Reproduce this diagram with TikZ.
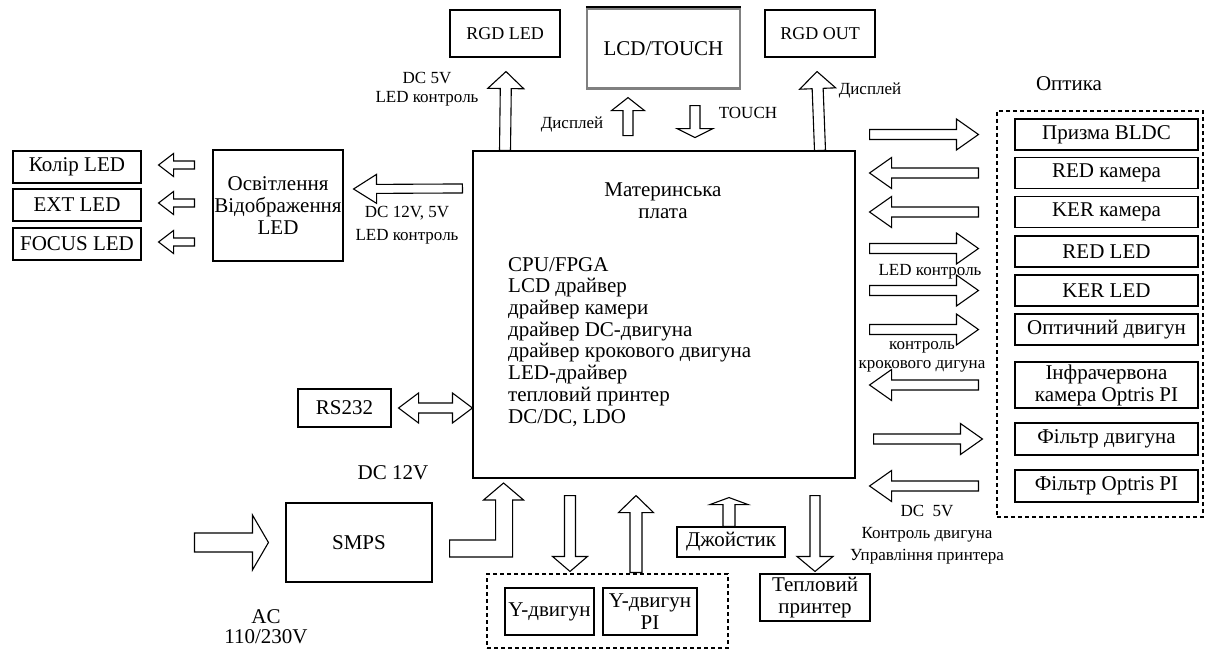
\documentclass[tikz,border=0pt]{standalone}
\usepackage{fontspec}
\setmainfont{Liberation Serif}
\usetikzlibrary{calc,positioning}

\newcommand{\bigfs}{\fontsize{21}{22}\selectfont}
\newcommand{\midfs}{\fontsize{18}{20}\selectfont}
\newcommand{\smallfs}{\fontsize{17}{19}\selectfont}

\begin{document}
\begin{tikzpicture}[x=1pt, y=-1pt,
  box/.style={draw, line width=1.1pt, inner sep=0pt, align=center, font=\bigfs},
  grp/.style={draw, line width=1.1pt, dash pattern=on 4pt off 3pt, inner sep=0pt},
  lbl/.style={align=center, font=\smallfs, inner sep=0pt},
  hollow/.style={draw, fill=white, line width=1.1pt, line join=miter},
  % block arrow: shaft half width, head half width, head length
  blk/.style n args={3}{to path={
    let \p1=(\tikztostart), \p2=(\tikztotarget), \p3=($(\p2)!#3!(\p1)$) in
    ($(\p1)!#1!90:(\p2)$) -- ($(\p3)!#1!90:(\p2)$) -- ($(\p3)!#2!90:(\p2)$)
    -- (\p2) -- ($(\p3)!#2!-90:(\p2)$) -- ($(\p3)!#1!-90:(\p2)$)
    -- ($(\p1)!#1!-90:(\p2)$) -- cycle}},
  dblk/.style n args={3}{to path={
    let \p1=(\tikztostart), \p2=(\tikztotarget),
        \p3=($(\p1)!#3!(\p2)$), \p4=($(\p2)!#3!(\p1)$) in
    (\p1) -- ($(\p3)!#2!90:(\p2)$) -- ($(\p3)!#1!90:(\p2)$)
    -- ($(\p4)!#1!90:(\p2)$) -- ($(\p4)!#2!90:(\p2)$) -- (\p2)
    -- ($(\p4)!#2!-90:(\p2)$) -- ($(\p4)!#1!-90:(\p2)$)
    -- ($(\p3)!#1!-90:(\p2)$) -- ($(\p3)!#2!-90:(\p2)$) -- cycle}}]

\useasboundingbox (0,0) rectangle (1217,650);

% top row
\node[box, font=\midfs, minimum width=110pt, minimum height=47pt] (rgdled) at (505,33.5) {RGD LED};
\node[box, draw=gray, line width=2.2pt, minimum width=153pt, minimum height=80pt] (lcd) at (663.5,48.5) {LCD/TOUCH};
\draw[line width=2pt] (lcd.north west) -- (lcd.north east);
\node[box, font=\midfs, minimum width=110pt, minimum height=47pt] (rgdout) at (820,33.5) {RGD OUT};

% main board
\node[box, minimum width=382pt, minimum height=327pt] (mb) at (664,314.5) {};
\node[font=\bigfs, align=center] (mbtitle) at (663,201) {Материнська\\плата};
\node[font=\fontsize{21}{21.7}\selectfont, align=left, anchor=north west, inner sep=0pt] (mblist) at (508,257)
  {CPU/FPGA\\LCD драйвер\\драйвер камери\\драйвер DC-двигуна\\драйвер крокового двигуна\\LED-драйвер\\тепловий принтер\\DC/DC, LDO};

% lighting
\node[box, minimum width=130pt, minimum height=111pt] (osv) at (278,205.5) {Освітлення\\Відображення\\LED};
\node[box, minimum width=128pt, minimum height=32pt] (kolir) at (77,167) {Колір LED};
\node[box, minimum width=128pt, minimum height=32pt] (ext) at (77,205) {EXT LED};
\node[box, minimum width=128pt, minimum height=32pt] (focus) at (77,244) {FOCUS LED};

% power and serial
\node[box, minimum width=93pt, minimum height=38pt] (rs232) at (344.5,408) {RS232};
\node[box, minimum width=146pt, minimum height=79pt] (smps) at (359,542.5) {SMPS};

% bottom row
\node[grp, minimum width=241pt, minimum height=74pt] (ygrp) at (607.5,611) {};
\node[box, minimum width=89pt, minimum height=47pt] (ydv) at (549.5,611.5) {Y-двигун};
\node[box, minimum width=94pt, minimum height=47pt] (ydvpi) at (650,611.5) {Y-двигун\\PI};
\node[box, minimum width=108pt, minimum height=30pt] (joy) at (731,542) {Джойстик};
\node[box, minimum width=110pt, minimum height=47pt] (printer) at (815,597.5) {Тепловий\\принтер};

% optics
\node[grp, minimum width=206pt, minimum height=406pt] (optgrp) at (1100,314) {};
\node[box, minimum width=183pt, minimum height=31pt] (prism) at (1106.5,134.5) {Призма BLDC};
\node[box, minimum width=183pt, minimum height=31pt] (redcam) at (1106.5,173) {RED камера};
\node[box, minimum width=183pt, minimum height=31pt] (kercam) at (1106.5,212) {KER камера};
\node[box, minimum width=183pt, minimum height=31pt] (redled) at (1106.5,251.5) {RED LED};
\node[box, minimum width=183pt, minimum height=31pt] (kerled) at (1106.5,290.5) {KER LED};
\node[box, minimum width=183pt, minimum height=31pt] (optmot) at (1106.5,329.5) {Оптичний двигун};
\node[box, minimum width=183pt, minimum height=46pt] (ir) at (1106.5,385) {Інфрачервона\\камера Optris PI};
\node[box, minimum width=183pt, minimum height=32pt] (filtmot) at (1106.5,439) {Фільтр двигуна};
\node[box, minimum width=183pt, minimum height=32pt] (filtopt) at (1106.5,486) {Фільтр Optris PI};

% arrows to the top
\draw[hollow] (rgdled.south |- mb.north) to[blk={5.5pt}{18pt}{17pt}] ($(rgdled.south)+(1,14)$);
\draw[hollow] (rgdout.south |- mb.north) to[blk={5.5pt}{18pt}{17pt}] ($(rgdout.south)+(-3,14)$);
\draw[hollow] ($(lcd.south)+(-35.5,46)$) to[blk={5pt}{16.5pt}{13pt}] ($(lcd.south)+(-35.5,8)$);
\draw[hollow] ($(lcd.south)+(31.5,16)$) to[blk={5pt}{18pt}{9pt}] ($(lcd.south)+(31.5,48)$);

% arrows to the left
\draw[hollow] ($(mb.north west)+(-10,38)$) to[blk={4.5pt}{14.5pt}{23pt}] ($(osv.east)+(10,-16.5)$);
\draw[hollow] ($(osv.west |- kolir.east)+(-18,-2)$) to[blk={4pt}{11.5pt}{15pt}] ($(kolir.east)+(17,-2)$);
\draw[hollow] ($(osv.west |- ext.east)+(-18,-2)$) to[blk={4pt}{11.5pt}{15pt}] ($(ext.east)+(17,-2)$);
\draw[hollow] ($(osv.west |- focus.east)+(-18,-2)$) to[blk={4pt}{11.5pt}{15pt}] ($(focus.east)+(17,-2)$);
\draw[hollow] ($(rs232.east)+(7,0)$) to[dblk={5pt}{15pt}{20pt}] (mb.west |- rs232.east);
\draw[hollow] ($(smps.west)+(-91,0)$) to[blk={9.5pt}{27.5pt}{16pt}] ($(smps.west)+(-17,0)$);

% power from SMPS
\coordinate (bend) at ($(smps.east)+(71.5,6)$);
\draw[hollow] (bend) ++(-54.5,-8.5) -- ++(46,0) -- ++(0,-40) -- ++(-12,0) -- ++(20,-17)
  -- ++(20,17) -- ++(-11,0) -- ++(0,57) -- ++(-63,0) -- cycle;

% arrows at the bottom
\draw[hollow] ($(mb.south)+(-94,17)$) to[blk={5.5pt}{17.5pt}{15pt}] ($(ygrp.north)+(-37.5,-2)$);
\draw[hollow] ($(ygrp.north)+(28.5,-1)$) to[blk={6pt}{17.5pt}{17pt}] ($(mb.south)+(-28,17)$);
\draw[hollow] (joy.north -| 729,0) to[blk={6pt}{19pt}{7pt}] ($(mb.south)+(65,19)$);
\draw[hollow] ($(mb.south)+(151,17)$) to[blk={5pt}{18pt}{15pt}] ($(printer.north)+(0,-2)$);

% arrows to the optics
\draw[hollow] ($(mb.east |- prism.west)+(14,0)$) to[blk={5pt}{15.5pt}{22pt}] ($(prism.west)+(-36,0)$);
\draw[hollow] ($(redcam.west)+(-36,0)$) to[blk={5pt}{15.5pt}{22pt}] ($(mb.east |- redcam.west)+(14,0)$);
\draw[hollow] ($(kercam.west)+(-36,0)$) to[blk={5pt}{15.5pt}{22pt}] ($(mb.east |- kercam.west)+(14,0)$);
\draw[hollow] ($(mb.east |- redled.west)+(14,-3)$) to[blk={5pt}{15.5pt}{22pt}] ($(redled.west)+(-36,-3)$);
\draw[hollow] ($(mb.east |- kerled.west)+(14,0)$) to[blk={5pt}{15.5pt}{22pt}] ($(kerled.west)+(-36,0)$);
\draw[hollow] ($(mb.east |- optmot.west)+(14,0)$) to[blk={5pt}{15.5pt}{22pt}] ($(optmot.west)+(-36,0)$);
\draw[hollow] ($(ir.west)+(-36,0)$) to[blk={5pt}{15.5pt}{22pt}] ($(mb.east |- ir.west)+(14,0)$);
\draw[hollow] ($(mb.east |- filtmot.west)+(18,0)$) to[blk={5pt}{15.5pt}{22pt}] ($(filtmot.west)+(-32,0)$);
\draw[hollow] ($(filtopt.west)+(-36,0)$) to[blk={5pt}{15.5pt}{22pt}] ($(mb.east |- filtopt.west)+(14,0)$);

% labels
\node[lbl] (dc5) at (427,89) {DC 5V\\LED контроль};
\node[lbl] (disp1) at (572,124) {Дисплей};
\node[lbl] (touch) at (748,113) {TOUCH};
\node[lbl] (disp2) at (870,90) {Дисплей};
\node[font=\bigfs] (opt) at (1069,84) {Оптика};
\node[lbl] (dc12) at (407,225) {DC 12V, 5V\\[4pt]LED контроль};
\node[lbl] (ledc) at (930,272) {LED контроль};
\node[lbl] (krok) at (922,357) {контроль\\крокового дигуна};
\node[lbl] (dcm) at (927,535) {DC\ \ 5V\\[3pt]Контроль двигуна\\[3pt]Управління принтера};
\node[font=\bigfs] (dc12v) at (393,473) {DC 12V};
\node[font=\fontsize{21}{20}\selectfont, align=center] (ac) at (266,627) {AC\\110/230V};
\end{tikzpicture}
\end{document}
